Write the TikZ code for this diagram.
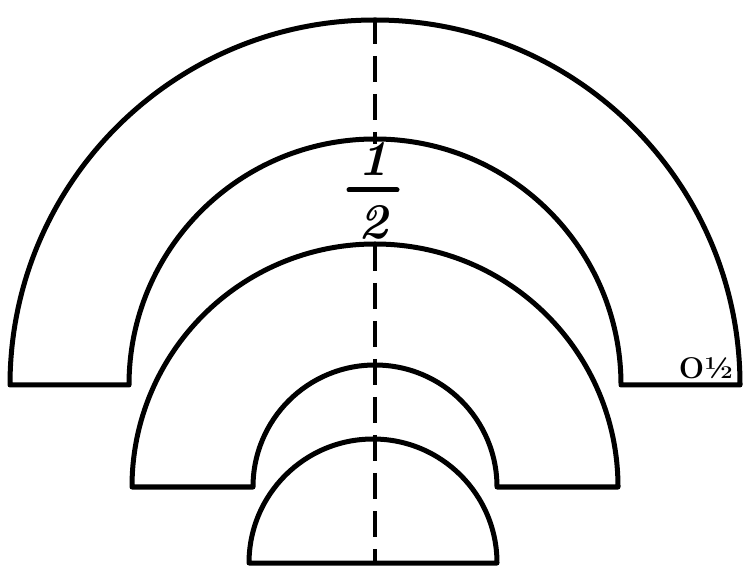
\documentclass[tikz,border=0pt]{standalone}
\usepackage{tikz}
\usetikzlibrary{positioning}

\begin{document}
\begin{tikzpicture}[x=1pt,y=1pt,
   outline/.style={draw=black,line width=5pt,line join=round},
   axisline/.style={draw=black,line width=3.5pt,dash pattern=on 26pt off 12pt},
   numeral/.style={font=\fontsize{50}{52}\selectfont\bfseries\itshape,inner sep=0pt}]
  \useasboundingbox (0,0) rectangle (743,567);
  % three pieces, stacked on one axis
  \draw[outline] (10,182) arc[start angle=180,end angle=0,radius=365]
     -- (621,182) arc[start angle=0,end angle=180,radius=246] -- cycle;
  \draw[outline] (132,80) arc[start angle=180,end angle=0,radius=243]
     -- (497,80) arc[start angle=0,end angle=180,radius=122] -- cycle;
  \draw[outline] (249,4) arc[start angle=180,end angle=0,radius=124] -- cycle;
  % fraction
  \node[numeral] (num) at (373,408) {1};
  \node[numeral] (den) at (373,345) {2};
  \coordinate (barL) at (349,377);
  \coordinate (barR) at (397,377);
  \draw[line width=5pt,line cap=round] (barL) -- (barR);
  % dashed axis
  \coordinate (axTop) at (375,549);
  \coordinate (axMid) at (375,423);
  \coordinate (axLow) at (375,322);
  \coordinate (axBot) at (375,4);
  \draw[axisline] (axTop) -- (axMid);
  \draw[axisline] (axLow) -- (axBot);
  % mark in the corner
  \node[font=\fontsize{30}{30}\selectfont\bfseries,inner sep=0pt] (mark) at (706,199) {O\textonehalf};
\end{tikzpicture}
\end{document}
